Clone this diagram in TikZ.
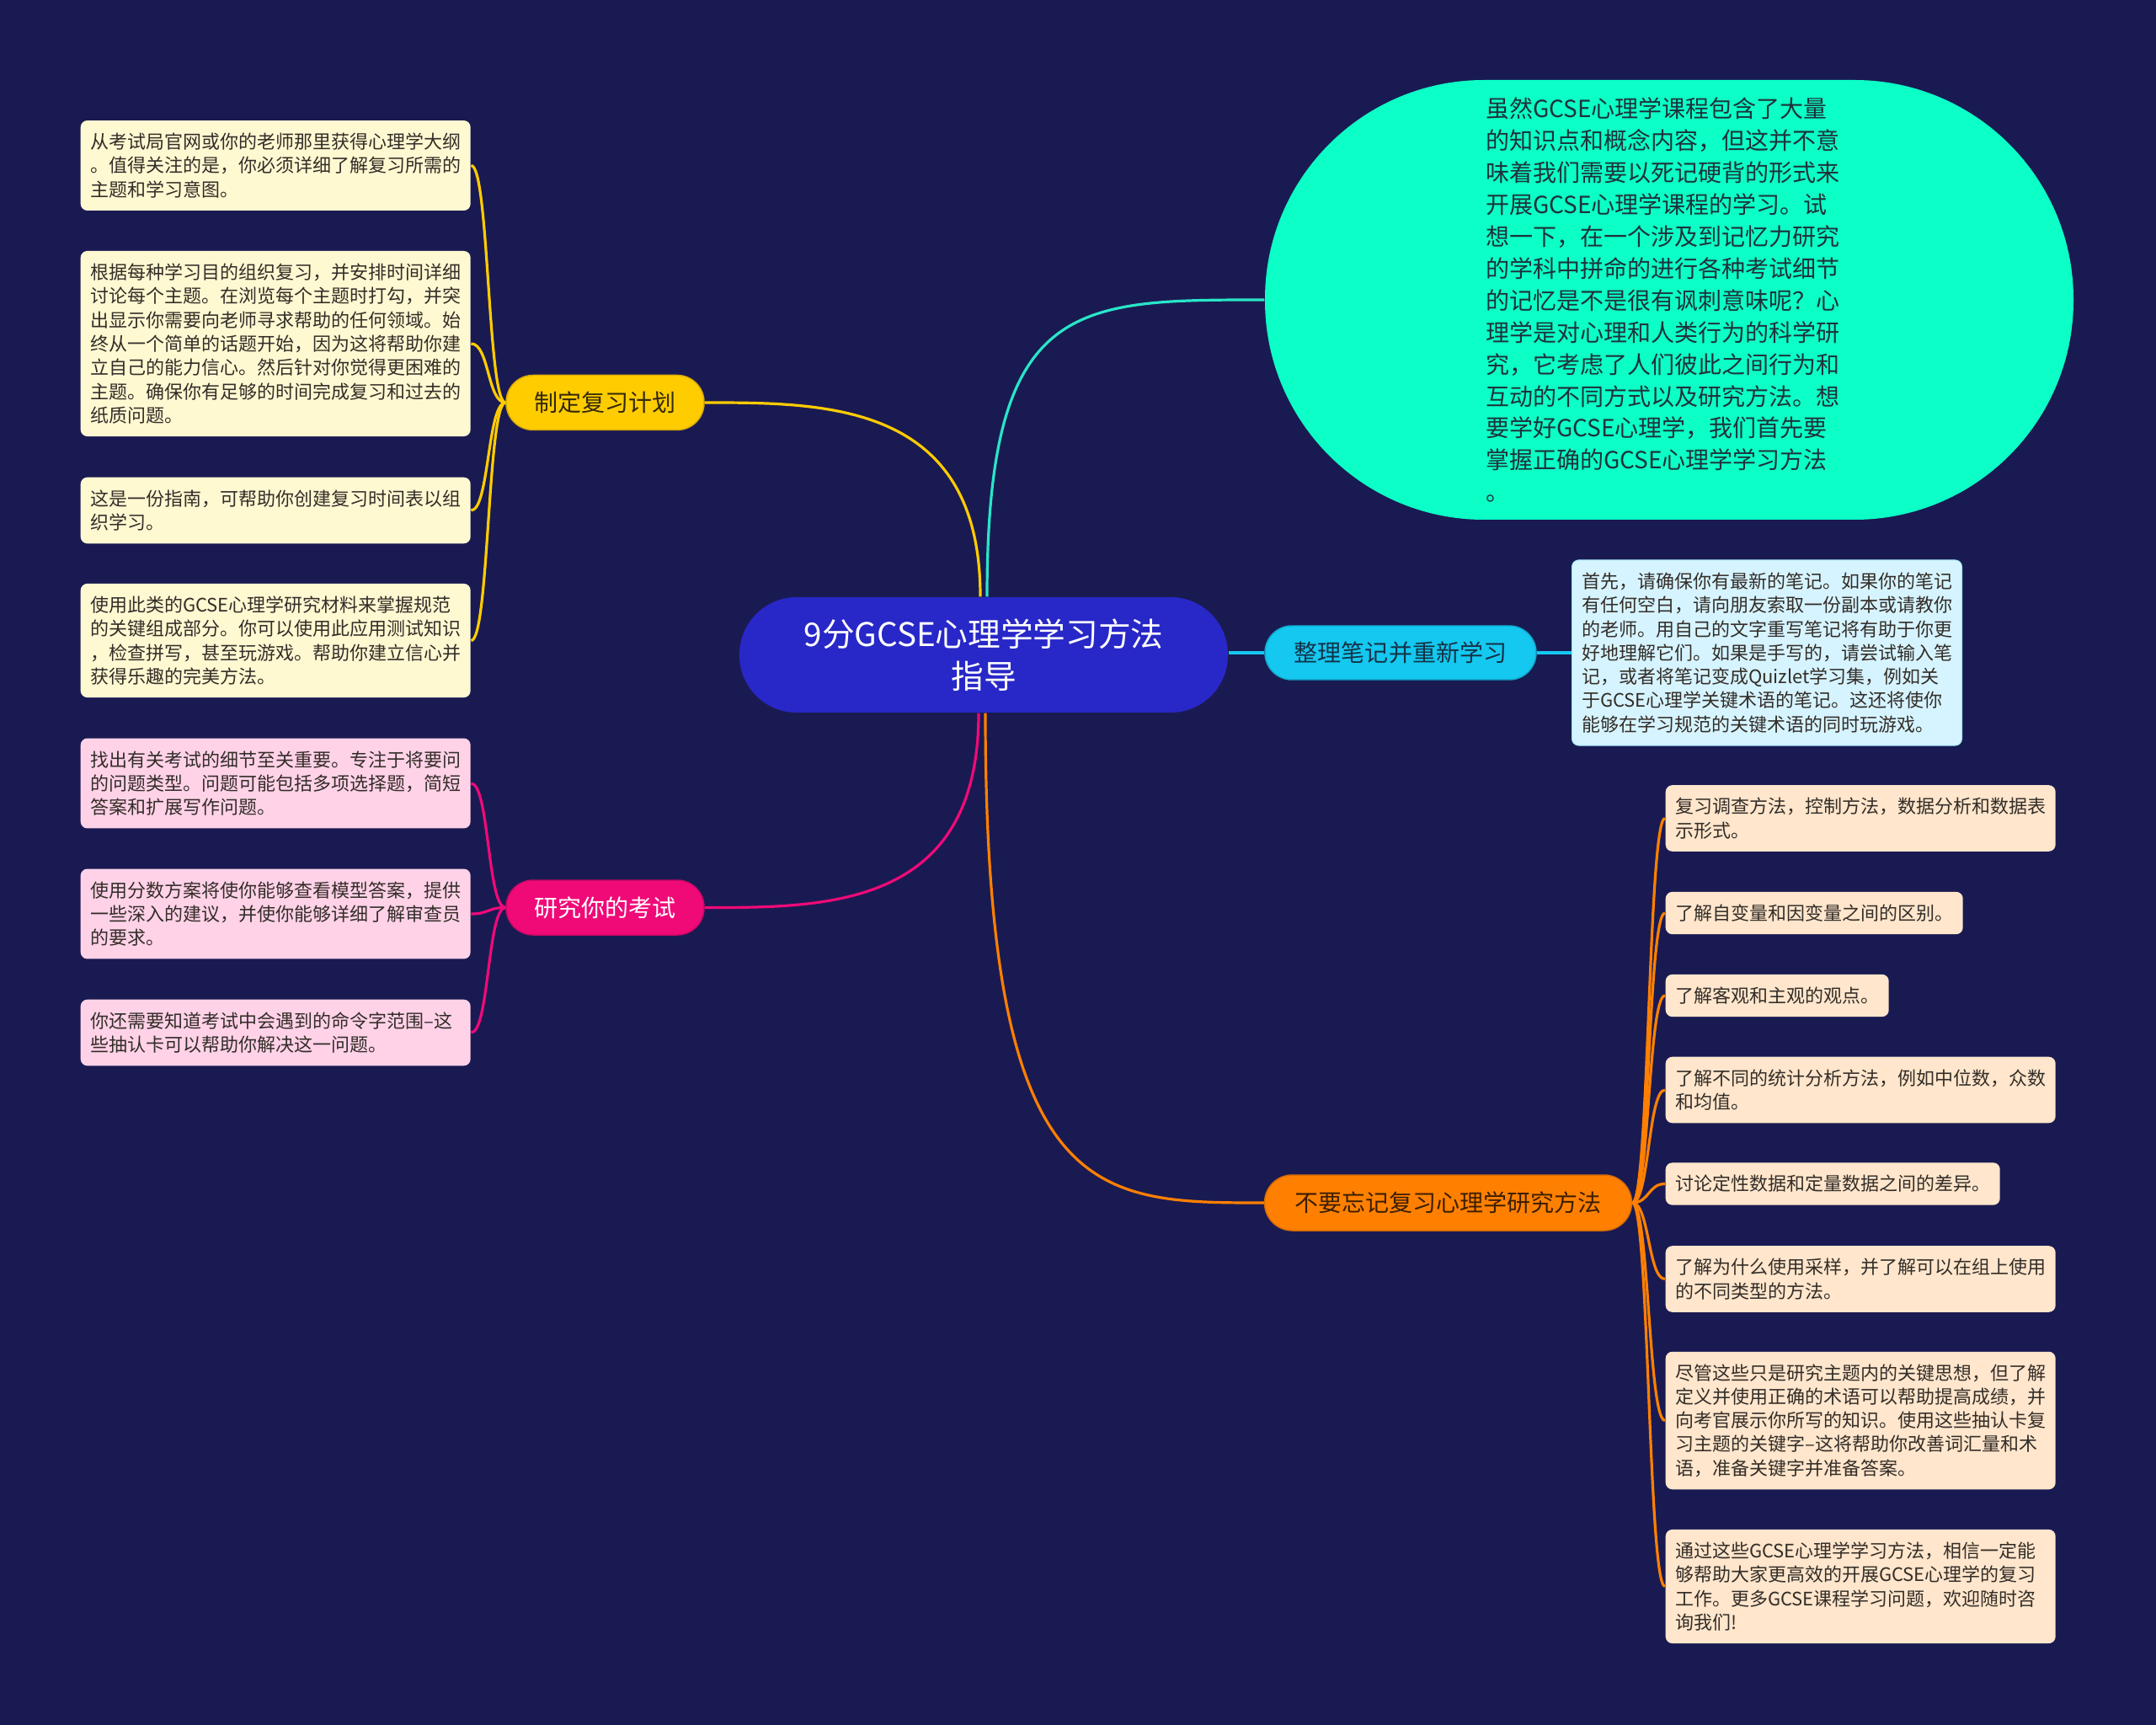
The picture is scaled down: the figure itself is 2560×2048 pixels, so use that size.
\documentclass[tikz,border=0pt]{standalone}
\usepackage{fontspec}
\setmainfont{Noto Sans CJK SC}
\definecolor{bg}{RGB}{26,26,82}
\definecolor{rootc}{RGB}{40,40,200}
\definecolor{introc}{RGB}{12,255,198}
\definecolor{introtxt}{RGB}{30,50,60}
\definecolor{yel}{RGB}{255,204,0}
\definecolor{pnk}{RGB}{240,10,120}
\definecolor{cyn}{RGB}{20,200,240}
\definecolor{org}{RGB}{255,128,0}
\definecolor{turq}{RGB}{40,230,200}
\definecolor{yleaf}{RGB}{255,249,210}
\definecolor{pleaf}{RGB}{255,210,232}
\definecolor{cleaf}{RGB}{214,244,255}
\definecolor{oleaf}{RGB}{255,230,204}
\definecolor{leaftext}{RGB}{51,45,40}
\begin{document}
\begin{tikzpicture}[x=0.1mm,y=-0.1mm,
  conn/.style={line width=0.32mm},
  leaf/.style={font=\fontsize{6.26pt}{8.05pt}\selectfont, text=leaftext, align=left,
    inner xsep=1.15mm, inner ysep=0pt, rounded corners=0.8mm, anchor=west},
  wide/.style={text width=44mm},
  nl/.style={minimum height={#1*2.83mm+2.2mm}},
  branch/.style={font=\fontsize{7.97pt}{9pt}\selectfont, inner sep=0pt, line width=0.15mm},
  yleafs/.style={leaf, wide, fill=yleaf},
  pleafs/.style={leaf, wide, fill=pleaf},
  oleafs/.style={leaf, fill=oleaf}
]
\useasboundingbox (0,0) rectangle (2560,2048);
\fill[bg] (0,0) rectangle (2560,2048);

% root
\node[fill=rootc, text=white, align=center, inner sep=0pt,
  minimum width=58mm, minimum height=13.7mm, rounded corners=6.8mm,
  font=\fontsize{11pt}{14.23pt}\selectfont] (root) at (1168,777.5)
  {9分GCSE心理学学习方法\\指导};

% intro pill
\node[fill=introc, text=introtxt, align=left, text width=43.6mm, inner sep=0pt,
  minimum width=96mm, minimum height=52.2mm, rounded corners=26mm,
  font=\fontsize{7.97pt}{10.81pt}\selectfont] (intro) at (1982,356)
  {虽然GCSE心理学课程包含了大量\\的知识点和概念内容，但这并不意\\味着我们需要以死记硬背的形式来\\开展GCSE心理学课程的学习。试\\想一下，在一个涉及到记忆力研究\\的学科中拼命的进行各种考试细节\\的记忆是不是很有讽刺意味呢？心\\理学是对心理和人类行为的科学研\\究，它考虑了人们彼此之间行为和\\互动的不同方式以及研究方法。想\\要学好GCSE心理学，我们首先要\\掌握正确的GCSE心理学学习方法\\。};

% branches
\node[branch, fill=yel, draw=yel!85!black, text={rgb,255:red,50;green,40;blue,10},
  minimum width=23.5mm, minimum height=6.5mm, rounded corners=3.2mm] (b1) at (718.5,478) {制定复习计划};
\node[branch, fill=pnk, draw=pnk!85!black, text=white,
  minimum width=23.5mm, minimum height=6.5mm, rounded corners=3.2mm] (b2) at (718.5,1077.5) {研究你的考试};
\node[branch, fill=cyn, draw=cyn!85!black, text={rgb,255:red,20;green,50;blue,70},
  minimum width=32.2mm, minimum height=6.4mm, rounded corners=3.2mm] (b3) at (1663,775) {整理笔记并重新学习};
\node[branch, fill=org, draw=org!85!black, text={rgb,255:red,60;green,30;blue,0},
  minimum width=43.6mm, minimum height=6.6mm, rounded corners=3.3mm] (b4) at (1719.5,1428) {不要忘记复习心理学研究方法};

% yellow leaves
\node[yleafs, nl=3] (L1) at (95,196.5) {从考试局官网或你的老师那里获得心理学大纲\\。值得关注的是，你必须详细了解复习所需的\\主题和学习意图。};
\node[yleafs, nl=7] (L2) at (95,408) {根据每种学习目的组织复习，并安排时间详细\\讨论每个主题。在浏览每个主题时打勾，并突\\出显示你需要向老师寻求帮助的任何领域。始\\终从一个简单的话题开始，因为这将帮助你建\\立自己的能力信心。然后针对你觉得更困难的\\主题。确保你有足够的时间完成复习和过去的\\纸质问题。};
\node[yleafs, nl=2] (L3) at (95,606) {这是一份指南，可帮助你创建复习时间表以组\\织学习。};
\node[yleafs, nl=4] (L4) at (95,760.5) {使用此类的GCSE心理学研究材料来掌握规范\\的关键组成部分。你可以使用此应用测试知识\\，检查拼写，甚至玩游戏。帮助你建立信心并\\获得乐趣的完美方法。};

% pink leaves
\node[pleafs, nl=3] (P1) at (95,930) {找出有关考试的细节至关重要。专注于将要问\\的问题类型。问题可能包括多项选择题，简短\\答案和扩展写作问题。};
\node[pleafs, nl=3] (P2) at (95,1085) {使用分数方案将使你能够查看模型答案，提供\\一些深入的建议，并使你能够详细了解审查员\\的要求。};
\node[pleafs, nl=2] (P3) at (95,1226) {你还需要知道考试中会遇到的命令字范围–这\\些抽认卡可以帮助你解决这一问题。};

% cyan leaf
\node[leaf, wide, fill=cleaf, draw=cyn!40!white, line width=0.1mm, nl=7] (C1) at (1866,775)
  {首先，请确保你有最新的笔记。如果你的笔记\\有任何空白，请向朋友索取一份副本或请教你\\的老师。用自己的文字重写笔记将有助于你更\\好地理解它们。如果是手写的，请尝试输入笔\\记，或者将笔记变成Quizlet学习集，例如关\\于GCSE心理学关键术语的笔记。这还将使你\\能够在学习规范的关键术语的同时玩游戏。};

% orange leaves
\node[oleafs, wide, nl=2] (O1) at (1977,971.5) {复习调查方法，控制方法，数据分析和数据表\\示形式。};
\node[oleafs, nl=1] (O2) at (1977,1084) {了解自变量和因变量之间的区别。};
\node[oleafs, nl=1] (O3) at (1977,1182) {了解客观和主观的观点。};
\node[oleafs, wide, nl=2] (O4) at (1977,1294) {了解不同的统计分析方法，例如中位数，众数\\和均值。};
\node[oleafs, nl=1] (O5) at (1977,1405.5) {讨论定性数据和定量数据之间的差异。};
\node[oleafs, wide, nl=2] (O6) at (1977,1518.5) {了解为什么使用采样，并了解可以在组上使用\\的不同类型的方法。};
\node[oleafs, wide, nl=5] (O7) at (1977,1686.5) {尽管这些只是研究主题内的关键思想，但了解\\定义并使用正确的术语可以帮助提高成绩，并\\向考官展示你所写的知识。使用这些抽认卡复\\习主题的关键字–这将帮助你改善词汇量和术\\语，准备关键字并准备答案。};
\node[oleafs, wide, nl=4] (O8) at (1977,1883.5) {通过这些GCSE心理学学习方法，相信一定能\\够帮助大家更高效的开展GCSE心理学的复习\\工作。更多GCSE课程学习问题，欢迎随时咨\\询我们!};

% root connectors
\draw[conn, turq] ([xshift=0.4mm]root.north) .. controls +(0,-353) and +(-227,0) .. (intro.west);
\draw[conn, yel] ([xshift=-0.4mm]root.north) .. controls +(0,-231) and +(144,0) .. (b1.east);
\draw[conn, pnk] ([xshift=-0.6mm]root.south) .. controls +(0,232) and +(144,0) .. (b2.east);
\draw[conn, org] ([xshift=0.2mm]root.south) .. controls +(0,582) and +(-202,0) .. (b4.west);
\draw[conn, cyn] (root.east |- b3.west) -- (b3.west);
\draw[conn, cyn] (b3.east) -- (C1.west);

% branch to leaves
\foreach \l in {L1,L2,L3,L4}
  \draw[conn, yel] (b1.west) .. controls +(-21.5,0) and +(21.5,0) .. (\l.east);
\foreach \l in {P1,P2,P3}
  \draw[conn, pnk] (b2.west) .. controls +(-21.5,0) and +(21.5,0) .. (\l.east);
\foreach \l in {O1,O2,O3,O4,O5,O6,O7,O8}
  \draw[conn, org] (b4.east) .. controls +(20,0) and +(-20,0) .. (\l.west);
\end{tikzpicture}
\end{document}
